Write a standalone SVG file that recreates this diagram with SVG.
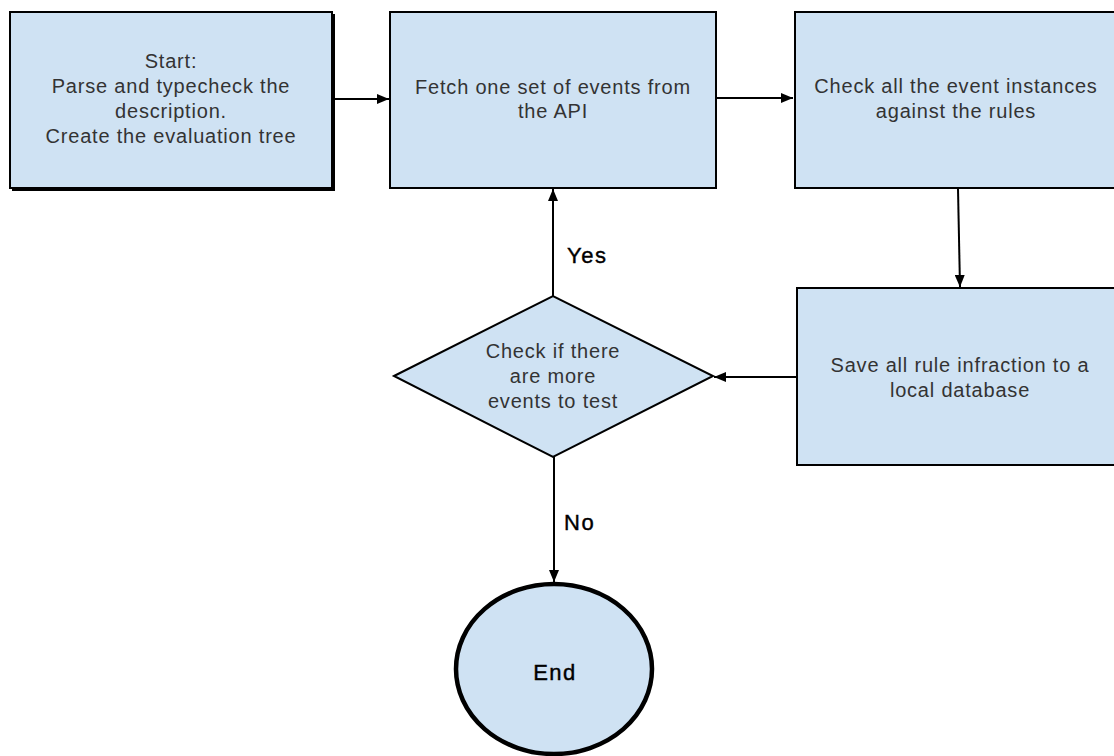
<svg xmlns="http://www.w3.org/2000/svg" width="1114" height="756" viewBox="0 0 1114 756">
<defs>
<marker id="arr" viewBox="0 0 12 10" refX="12" refY="5" markerWidth="12" markerHeight="10" markerUnits="userSpaceOnUse" orient="auto">
<path d="M0,0 L12,5 L0,10 z" fill="#000"/>
</marker>
</defs>
<style>
.box{fill:#cfe2f3;stroke:#000;stroke-width:2}
.t{font-family:"Liberation Sans",Arial,sans-serif;font-size:20px;fill:#333;text-anchor:middle;letter-spacing:0.8px}
.lbl{font-family:"Liberation Sans",Arial,sans-serif;font-size:22px;fill:#000;stroke:#000;stroke-width:0.4;letter-spacing:1.5px}
.c{fill:none;stroke:#000;stroke-width:2;marker-end:url(#arr)}
</style>
<rect width="1114" height="756" fill="#fff"/>
<g id="connectors">
<line class="c" x1="334" y1="99" x2="389" y2="99"/>
<line class="c" x1="717" y1="98" x2="793" y2="98"/>
<line class="c" x1="958" y1="189" x2="960" y2="287"/>
<line class="c" x1="797" y1="377" x2="714" y2="377"/>
<line class="c" x1="553" y1="296" x2="553" y2="189"/>
<line class="c" x1="554" y1="457" x2="554" y2="582"/>
<text class="lbl" x="567" y="263">Yes</text>
<text class="lbl" x="564" y="530">No</text>
</g>
<g id="start">
<rect x="12" y="14" width="323" height="177" fill="#000"/>
<rect class="box" x="10" y="12" width="322" height="176" stroke-width="2.5"/>
<text class="t" x="171" y="68">Start:</text>
<text class="t" x="171" y="93">Parse and typecheck the</text>
<text class="t" x="171" y="118">description.</text>
<text class="t" x="171" y="143">Create the evaluation tree</text>
</g>
<g id="fetch">
<rect class="box" x="390" y="12" width="326" height="176"/>
<text class="t" x="553" y="94">Fetch one set of events from</text>
<text class="t" x="553" y="118">the API</text>
</g>
<g id="check">
<rect class="box" x="795" y="12" width="330" height="176"/>
<text class="t" x="956" y="93">Check all the event instances</text>
<text class="t" x="956" y="118">against the rules</text>
</g>
<g id="save">
<rect class="box" x="797" y="288" width="330" height="177"/>
<text class="t" x="960" y="372">Save all rule infraction to a</text>
<text class="t" x="960" y="397">local database</text>
</g>
<g id="decision">
<polygon class="box" points="394,376 553,296 713,376 553,457"/>
<text class="t" x="553" y="358">Check if there</text>
<text class="t" x="553" y="383">are more</text>
<text class="t" x="553" y="408">events to test</text>
</g>
<g id="end">
<ellipse cx="554" cy="669" rx="98" ry="85" fill="#cfe2f3" stroke="#000" stroke-width="4.5"/>
<text class="lbl" x="555" y="680" text-anchor="middle">End</text>
</g>
</svg>
